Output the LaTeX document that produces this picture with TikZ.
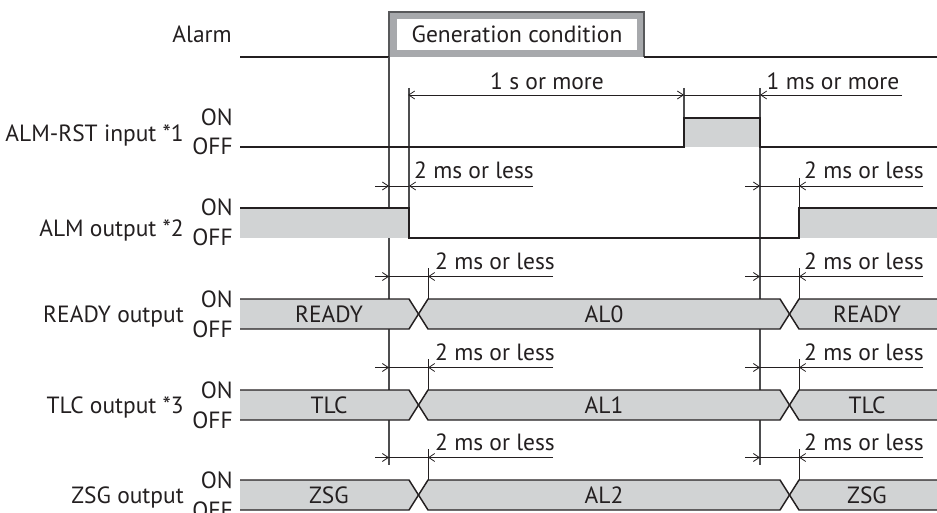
\documentclass[tikz,border=0pt]{standalone}
\usepackage{fontspec}
\setmainfont{PT Sans}
\usetikzlibrary{arrows.meta}
\definecolor{sig}{HTML}{231F20}
\definecolor{fillg}{HTML}{D1D3D4}
\definecolor{boxg}{HTML}{A7A9AC}
\definecolor{boxedge}{HTML}{58595B}
\definecolor{refl}{HTML}{4D4D4F}
\begin{document}
\begin{tikzpicture}[x=0.75pt,y=-0.75pt,
  every node/.style={font=\fontsize{17.6}{20}\selectfont, text=sig, inner sep=0pt, text height=12.3pt, text depth=0pt},
  sigline/.style={draw=sig, line width=1.1pt},
  refline/.style={draw=refl, line width=0.9pt},
  dimline/.style={draw=sig, line width=0.6pt},
  dimtip/.style={dimline, -{Straight Barb[length=4.5pt,width=6pt]}},
  lbl/.style={anchor=east},
]
\useasboundingbox (0,0) rectangle (937,513);

% ---------- Alarm ----------
\node[lbl] (alarm) at (232,34) {Alarm};
\fill[boxg] (389,12) rectangle (644,57);
\draw[boxedge, line width=0.8pt] (389,57) -- (389,12) -- (644,12) -- (644,57);
\fill[white] (397,19) rectangle (637,50);
\node (gen) at (517,34) {Generation condition};
\draw[sigline] (240,57) -- (389,57);
\draw[sigline] (644,57) -- (937,57);

% reference lines
\draw[refline] (389,57) -- (389,465);
\draw[refline] (760,88) -- (760,465);
\draw[refline] (409,88) -- (409,208);
\draw[refline] (684,88) -- (684,118);

% ---------- ALM-RST input ----------
\node[lbl] (nrst) at (184,133.5) {ALM-RST input *1};
\node[lbl] (onrst) at (233,117.5) {ON};
\node[lbl] (offrst) at (233,146) {OFF};
\fill[fillg] (684,118) rectangle (760,147);
\draw[sigline] (240,147) -- (684,147) -- (684,118) -- (760,118) -- (760,147) -- (937,147);
\draw[dimtip] (546,95) -- (408,95);
\draw[dimtip] (546,95) -- (684,95);
\draw[dimline] (684,95) -- (760,95);
\draw[dimtip] (902,95) -- (760,95);
\node (t1s) at (547,81) {1 s or more};
\node (t1ms) at (833,81) {1 ms or more};

% ---------- ALM output ----------
\node[lbl] (nalm) at (184,228) {ALM output *2};
\node[lbl] (onalm) at (233,207.5) {ON};
\node[lbl] (offalm) at (233,237) {OFF};
\fill[fillg] (240,208) rectangle (409,238);
\fill[fillg] (799,208) rectangle (937,238);
\draw[sigline] (240,208) -- (409,208) -- (409,238) -- (799,238) -- (799,208) -- (937,208);
\draw[dimline] (799,178) -- (799,208);
\draw[dimtip] (375,186) -- (389,186);
\draw[dimline] (389,186) -- (409,186);
\draw[dimtip] (533,186) -- (409,186);
\draw[dimtip] (745,186) -- (760,186);
\draw[dimline] (760,186) -- (799,186);
\draw[dimtip] (923,186) -- (799,186);
\node (talmL) at (474,170.5) {2 ms or less};
\node (talmR) at (864,170.5) {2 ms or less};

% ---------- bus signals ----------
\foreach \yt/\yb/\nm/\na/\nb/\nc/\ny in {299/329/READY output/READY/AL0/READY/314, 390/420/TLC output *3/TLC/AL1/TLC/405, 480/510/ZSG output/ZSG/AL2/ZSG/495.5} {
  \pgfmathsetmacro\ym{(\yt+\yb)/2}
  \pgfmathsetmacro\yd{\yt-22.5}
  \pgfmathsetmacro\ytk{\yt-31}
  \pgfmathsetmacro\ytx{\yd-15.5}
  \node[lbl] (n\na) at (184,\ny) {\nm};
  \node[lbl] (on\na) at (233,\yt) {ON};
  \node[lbl] (off\na) at (233,\yb) {OFF};
  \fill[fillg] (240,\yt) -- (409,\yt) -- (418.5,\ym) -- (409,\yb) -- (240,\yb) -- cycle;
  \fill[fillg] (418.5,\ym) -- (428,\yt) -- (780,\yt) -- (789.5,\ym) -- (780,\yb) -- (428,\yb) -- cycle;
  \fill[fillg] (789.5,\ym) -- (799,\yt) -- (937,\yt) -- (937,\yb) -- (799,\yb) -- cycle;
  \draw[sigline] (240,\yt) -- (409,\yt) -- (428,\yb) -- (780,\yb) -- (799,\yt) -- (937,\yt);
  \draw[sigline] (240,\yb) -- (409,\yb) -- (428,\yt) -- (780,\yt) -- (799,\yb) -- (937,\yb);
  \node (a\na) at (329,\ym) {\na};
  \node (b\na) at (604,\ym) {\nb};
  \node (c\na) at (867,\ym) {\nc};
  \draw[dimline] (428,\ytk) -- (428,\yt);
  \draw[dimline] (799,\ytk) -- (799,\yt);
  \draw[dimtip] (375,\yd) -- (389,\yd);
  \draw[dimline] (389,\yd) -- (428,\yd);
  \draw[dimtip] (553,\yd) -- (428,\yd);
  \draw[dimtip] (745,\yd) -- (760,\yd);
  \draw[dimline] (760,\yd) -- (799,\yd);
  \draw[dimtip] (923,\yd) -- (799,\yd);
  \node (tL\na) at (495,\ytx) {2 ms or less};
  \node (tR\na) at (864,\ytx) {2 ms or less};
}
\end{tikzpicture}
\end{document}
